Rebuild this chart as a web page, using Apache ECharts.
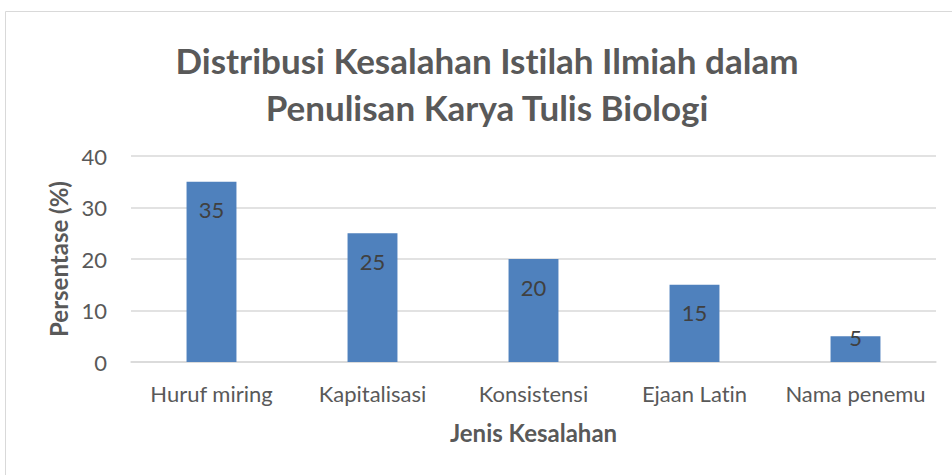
<!DOCTYPE html>
<html>
<head>
<meta charset="utf-8">
<script src="https://cdn.jsdelivr.net/npm/echarts@6/dist/echarts.min.js"></script>
<style>
  html, body { margin: 0; padding: 0; background: #fff; }
  #chart { width: 952px; height: 475px; font-variant-ligatures: none; }
  #chart text { font-variant-ligatures: none; }
</style>
</head>
<body>
<div id="chart"></div>
<script>
const categories = ['Huruf miring', 'Kapitalisasi', 'Konsistensi', 'Ejaan Latin', 'Nama penemu'];
const values = [35, 25, 20, 15, 5];
const yTicks = [0, 10, 20, 30, 40];

const font = 'Lato';
const textColor = '#595959';

const chart = echarts.init(document.getElementById('chart'), null, { renderer: 'svg' });
chart.setOption({
    animation: false,
    title: {
        text: 'Distribusi Kesalahan Istilah Ilmiah dalam\nPenulisan Karya Tulis Biologi',
        left: 482,
        textAlign: 'center',
        top: 31,
        textStyle: {
            fontFamily: font,
            fontWeight: 'bold',
            fontSize: 35,
            lineHeight: 47,
            color: textColor
        }
    },
    graphic: [{
        type: 'rect',
        shape: { x: 5.5, y: 11.5, width: 980, height: 500 },
        style: { fill: null, stroke: '#d9d9d9', lineWidth: 1 },
        silent: true
    }],
    grid: { left: 131, right: 16, top: 156, bottom: 113 },
    xAxis: {
        type: 'category',
        data: categories,
        name: 'Jenis Kesalahan',
        nameLocation: 'middle',
        nameGap: 58,
        nameTextStyle: { fontFamily: font, fontWeight: 'bold', fontSize: 24, color: textColor },
        axisLine: { lineStyle: { color: '#d9d9d9', width: 1.5 } },
        axisTick: { show: false },
        axisLabel: { interval: 0, fontFamily: font, fontSize: 22, color: textColor, margin: 20 }
    },
    yAxis: {
        type: 'value',
        min: yTicks[0],
        max: yTicks[yTicks.length - 1],
        interval: 10,
        name: 'Persentase (%)',
        nameLocation: 'middle',
        nameGap: 55,
        nameTextStyle: { fontFamily: font, fontWeight: 'bold', fontSize: 24, color: textColor },
        axisLine: { show: false },
        axisTick: { show: false },
        axisLabel: { fontFamily: font, fontSize: 22, color: textColor, margin: 24 },
        splitLine: { lineStyle: { color: '#d9d9d9', width: 1.5 } }
    },
    series: [{
        type: 'bar',
        barWidth: '31%',
        itemStyle: { color: '#4f81bd' },
        label: {
            show: true,
            position: 'insideTop',
            distance: 17,
            fontFamily: font,
            fontSize: 22,
            color: '#404040'
        },
        data: values.map(v => v < 10
            ? { value: v, label: { distance: -10 } }
            : v)
    }]
});
</script>
</body>
</html>
